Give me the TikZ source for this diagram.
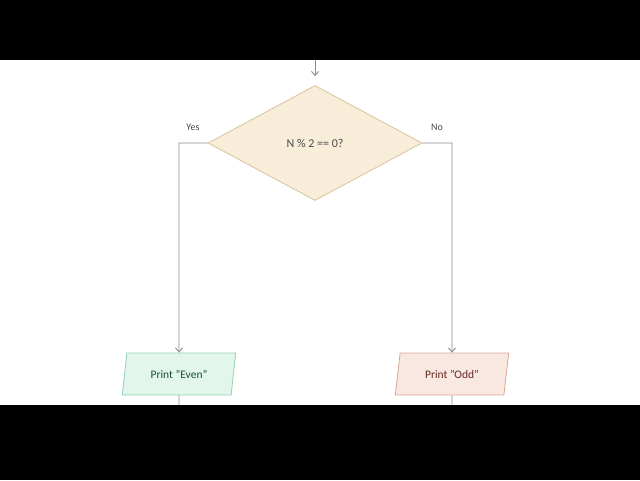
\documentclass[tikz,border=0pt]{standalone}
\usepackage{fontspec}
\setmainfont{Carlito}
\usetikzlibrary{shapes.geometric,arrows.meta}
\definecolor{linegray}{HTML}{8C8C8C}
\definecolor{decfill}{HTML}{F8EDD9}
\definecolor{decdraw}{HTML}{D8C39B}
\definecolor{evenfill}{HTML}{E2F6EB}
\definecolor{evendraw}{HTML}{92D3B2}
\definecolor{eventext}{HTML}{1A5238}
\definecolor{oddfill}{HTML}{F9E8E2}
\definecolor{odddraw}{HTML}{D8A796}
\definecolor{oddtext}{HTML}{62281E}
\definecolor{txtgray}{HTML}{4A4A4A}
\tikzset{
  conn/.style={draw=linegray, line width=0.9pt, -{Straight Barb[length=4pt,width=7pt]}},
  plain/.style={draw=linegray, line width=0.9pt},
  decision/.style={diamond, draw=decdraw, fill=decfill, line width=0.8pt, minimum width=214pt, minimum height=115pt, inner sep=0pt, aspect=1.86, text=txtgray, font=\fontsize{12}{14}\selectfont},
  io/.style={trapezium, trapezium left angle=73, trapezium right angle=107, trapezium stretches=true, minimum width=114pt, minimum height=42pt, inner sep=0pt, line width=0.8pt, font=\fontsize{11.5}{14}\selectfont},
  lbl/.style={text=txtgray, font=\fontsize{10}{12}\selectfont, inner sep=0pt}
}
\begin{document}
\begin{tikzpicture}[x=1pt,y=-1pt]
\useasboundingbox (0,0) rectangle (640,480);
\fill[white] (0,0) rectangle (640,480);
\node[decision] (dec) at (315,143) {N \% 2 == 0?};
\node[io, draw=evendraw, fill=evenfill, text=eventext] (even) at (179,374) {Print \symbol{34}Even\symbol{34}};
\node[io, draw=odddraw, fill=oddfill, text=oddtext] (odd) at (452,374) {Print \symbol{34}Odd\symbol{34}};
\coordinate (top) at (315,58);
\coordinate (yl) at (179,143);
\coordinate (nr) at (452,143);
\coordinate (eb) at (179,410);
\coordinate (ob) at (452,410);
\draw[conn, shorten >=9pt] (top) -- (dec.north);
\draw[conn] (dec.west) -- (yl) -- (even.north);
\draw[conn] (dec.east) -- (nr) -- (odd.north);
\draw[plain] (even.south) -- (eb);
\draw[plain] (odd.south) -- (ob);
\node[lbl] (yes) at (193,127) {Yes};
\node[lbl] (no) at (437,127) {No};
\fill[black] (0,0) rectangle (640,60);
\fill[black] (0,405) rectangle (640,480);
\end{tikzpicture}
\end{document}
